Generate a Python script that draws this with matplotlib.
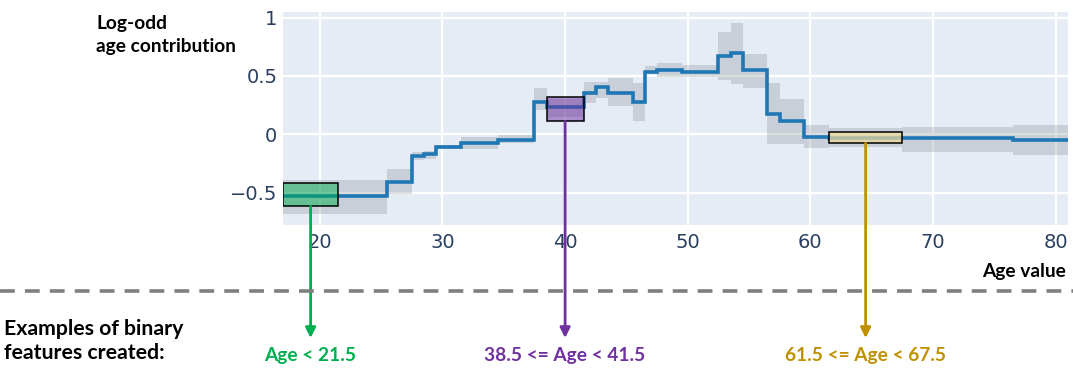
import matplotlib
matplotlib.use("Agg")
import matplotlib.pyplot as plt
import matplotlib.transforms as mtransforms
from matplotlib.patches import Rectangle
from matplotlib.lines import Line2D

# ---- data ----
edges = [17, 25.5, 27.5, 28.5, 29.5, 31.5, 34.5, 37.5, 38.5, 41.5, 42.5, 43.5,
         45.5, 46.5, 47.5, 49.5, 52.5, 53.5, 54.5, 56.5, 57.5, 59.5, 61.5, 67.5,
         76.5, 81]
contrib = [-0.53, -0.405, -0.19, -0.17, -0.106, -0.072, -0.052, 0.274, 0.23,
           0.357, 0.408, 0.357, 0.274, 0.536, 0.548, 0.536, 0.671, 0.70, 0.551,
           0.174, 0.117, -0.023, -0.034, -0.034, -0.051]
band_low = [-0.68, -0.51, -0.22, -0.21, -0.125, -0.13, -0.075, 0.21, 0.15,
            0.27, 0.31, 0.24, 0.117, 0.517, 0.49, 0.49, 0.465, 0.43, 0.40,
            -0.083, -0.083, -0.12, -0.11, -0.149, -0.177]
band_high = [-0.39, -0.30, -0.15, -0.14, -0.09, -0.02, -0.005, 0.40, 0.30,
             0.45, 0.45, 0.48, 0.437, 0.585, 0.61, 0.59, 0.874, 0.956, 0.688,
             0.44, 0.30, 0.08, 0.05, 0.06, 0.08]

x_ticks = [20, 30, 40, 50, 60, 70, 80]
y_ticks = [-0.5, 0, 0.5, 1]
y_tick_labels = ["\u22120.5", "0", "0.5", "1"]

feat_lo = [17, 38.5, 61.5]
feat_hi = [21.5, 41.5, 67.5]
feat_box_lo = [-0.617, 0.111, -0.077]
feat_box_hi = [-0.42, 0.322, 0.022]
feat_labels = ["Age < 21.5", "38.5 <= Age < 41.5", "61.5 <= Age < 67.5"]
feat_colors = ["#00B050", "#7030A0", "#BF9000"]
feat_fill = ["#00B050", "#7030A0", "#F0DC96"]
feat_alpha = [0.5, 0.5, 0.7]

# ---- figure ----
W, H = 1073, 379
fig = plt.figure(figsize=(W / 100, H / 100), dpi=100)
ax = fig.add_axes([283 / W, 1 - 225 / H, (1068 - 283) / W, (225 - 12.3) / H])
ax.set_facecolor("#E5ECF6")
for s in ax.spines.values():
    s.set_visible(False)
ax.set_xlim(17, 81)
ax.set_ylim(-0.777, 1.045)
ax.set_xticks(x_ticks)
ax.set_yticks(y_ticks)
ax.set_yticklabels(y_tick_labels)
ax.tick_params(length=0, labelsize=14, labelcolor="#2a3f5f", pad=4)
ax.tick_params(axis="x", pad=6)
for lab in ax.get_xticklabels() + ax.get_yticklabels():
    lab.set_family("DejaVu Sans")
ax.grid(True, color="white", lw=1.6)
ax.set_axisbelow(True)

ax.stairs(band_high, edges, baseline=band_low, fill=True,
          color="#8a8f98", alpha=0.3, lw=0, zorder=2)
ax.stairs(contrib, edges, baseline=None, color="#1f77b4", lw=2.6, zorder=3)

blend = mtransforms.blended_transform_factory(ax.transData, fig.transFigure)
bold_font = "Lato"
for lo, hi, blo, bhi, lab, col, fc, al in zip(feat_lo, feat_hi, feat_box_lo,
                                              feat_box_hi, feat_labels,
                                              feat_colors, feat_fill, feat_alpha):
    ax.add_patch(Rectangle((lo, blo), hi - lo, bhi - blo, facecolor=fc,
                           alpha=al, edgecolor="none", zorder=4))
    ax.add_patch(Rectangle((lo, blo), hi - lo, bhi - blo, facecolor="none",
                           edgecolor="black", lw=1.1, zorder=5))
    xc = (lo + hi) / 2
    ax.annotate("", xy=(xc, 1 - 338 / H), xycoords=blend,
                xytext=(xc, blo), textcoords="data",
                arrowprops=dict(arrowstyle="-|>,head_length=0.6,head_width=0.3",
                                color=col, lw=2, shrinkA=0, shrinkB=0),
                annotation_clip=False, zorder=6)
    fig.text(xc, 1 - 355 / H, lab, transform=blend, ha="center", va="center",
             color=col, fontsize=13.8, fontweight="bold", family=bold_font)

# dashed separator
fig.add_artist(Line2D([0, 1], [1 - 290.5 / H, 1 - 290.5 / H],
                      transform=fig.transFigure, color="#7F7F7F", lw=2.6,
                      dashes=(4.1, 2.8)))

fig.text(96 / W, 1 - 35 / H, "Log-odd\nage contribution", ha="left",
         va="center", fontsize=13.8, fontweight="bold", family=bold_font,
         color="black", linespacing=1.4)
fig.text(1066 / W, 1 - 271 / H, "Age value", ha="right", va="center",
         fontsize=13.8, fontweight="bold", family=bold_font, color="black")
fig.text(4 / W, 1 - 341 / H, "Examples of binary\nfeatures created:",
         ha="left", va="center", fontsize=15.3, fontweight="bold",
         family=bold_font, color="black", linespacing=1.3)

fig.savefig("out.png", dpi=100)
